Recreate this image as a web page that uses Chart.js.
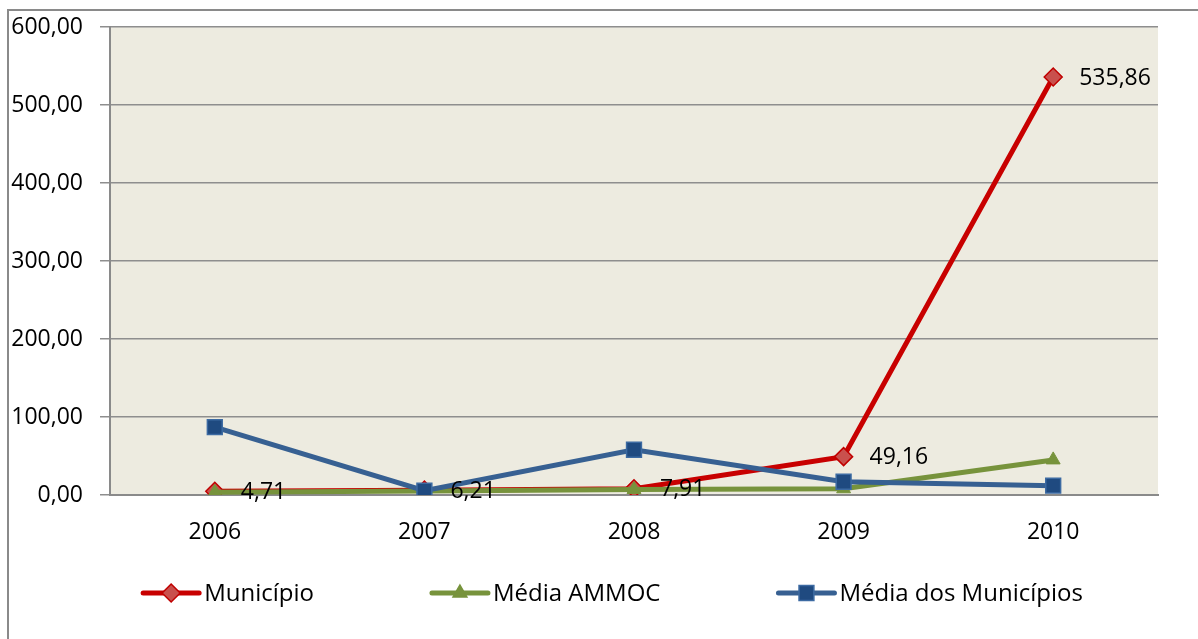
<!DOCTYPE html>
<html>
<head>
<meta charset="utf-8">
<script src="https://cdn.jsdelivr.net/npm/chart.js@4/dist/chart.umd.min.js"></script>
<style>
  html, body { margin: 0; padding: 0; background: #fff; overflow: hidden; }
  #frame { position: absolute; left: 7px; top: 9px; width: 1400px; height: 900px; border: 2px solid #8a8a8a; }
  #graph { position: absolute; left: 0; top: 0; }
</style>
</head>
<body>
<div id="frame"></div>
<canvas id="graph" width="1198" height="639"></canvas>
<script>
var years = ['2006', '2007', '2008', '2009', '2010'];
var municipio = [4.71, 6.21, 7.91, 49.16, 535.86];
var mediaAmmoc = [3.5, 5.2, 7.0, 8.0, 45.0];
var mediaMunicipios = [87.0, 5.5, 58.0, 17.0, 12.0];
var seriesNames = ['Município', 'Média AMMOC', 'Média dos Municípios'];

var FONT = '"Open Sans", "Noto Sans", sans-serif';

function fmt(v) {
  return v.toFixed(2).replace('.', ',');
}

// small marker painter, used by the legend
function drawMarker(ctx, style, x, y, r, fill, stroke) {
  ctx.save();
  ctx.beginPath();
  if (style === 'rectRot') {
    ctx.moveTo(x, y - r); ctx.lineTo(x + r, y); ctx.lineTo(x, y + r); ctx.lineTo(x - r, y);
  } else if (style === 'triangle') {
    ctx.moveTo(x, y - r); ctx.lineTo(x + r * 0.866, y + r * 0.5); ctx.lineTo(x - r * 0.866, y + r * 0.5);
  } else {
    var s = r * Math.SQRT1_2;
    ctx.rect(x - s, y - s, 2 * s, 2 * s);
  }
  ctx.closePath();
  ctx.fillStyle = fill;
  ctx.fill();
  ctx.lineWidth = 1.5;
  ctx.strokeStyle = stroke;
  ctx.stroke();
  ctx.restore();
}

var plotBg = {
  id: 'plotBg',
  beforeDraw: function (chart) {
    var a = chart.chartArea;
    var ctx = chart.ctx;
    ctx.save();
    ctx.fillStyle = '#EDEBE0';
    ctx.fillRect(a.left, a.top, a.right - a.left, a.bottom - a.top);
    ctx.restore();
  }
};

// value labels on the Município series only
var valueLabels = {
  id: 'valueLabels',
  afterDatasetsDraw: function (chart) {
    var ctx = chart.ctx;
    var meta = chart.getDatasetMeta(0);
    ctx.save();
    ctx.font = '23px ' + FONT;
    ctx.fillStyle = '#000';
    ctx.textAlign = 'left';
    ctx.textBaseline = 'middle';
    meta.data.forEach(function (pt, i) {
      ctx.fillText(fmt(municipio[i]), pt.x + 26, pt.y + 1);
    });
    ctx.restore();
  }
};

var bottomLegend = {
  id: 'bottomLegend',
  afterDraw: function (chart) {
    var ctx = chart.ctx;
    var lineLen = 56, textGap = 5, itemGap = 118;
    var y = 593;
    ctx.save();
    ctx.font = '24px ' + FONT;
    var widths = chart.data.datasets.map(function (ds) {
      return lineLen + textGap + ctx.measureText(ds.label).width;
    });
    var total = widths.reduce(function (a, b) { return a + b; }, 0) + itemGap * (widths.length - 1);
    var x = 613 - total / 2;
    chart.data.datasets.forEach(function (ds, i) {
      ctx.beginPath();
      ctx.moveTo(x, y);
      ctx.lineTo(x + lineLen, y);
      ctx.lineWidth = 5;
      ctx.lineCap = 'round';
      ctx.strokeStyle = ds.borderColor;
      ctx.stroke();
      drawMarker(ctx, ds.pointStyle, x + lineLen / 2, y, ds.pointRadius, ds.pointBackgroundColor, ds.pointBorderColor);
      ctx.fillStyle = '#000';
      ctx.textAlign = 'left';
      ctx.textBaseline = 'middle';
      ctx.fillText(ds.label, x + lineLen + textGap, y + 1);
      x += widths[i] + itemGap;
    });
    ctx.restore();
  }
};

var lineChart = new Chart(document.getElementById('graph').getContext('2d'), {
  type: 'line',
  data: {
    labels: years,
    datasets: [
      {
        label: seriesNames[0],
        data: municipio,
        order: 2,
        borderColor: '#C80000',
        borderWidth: 5,
        pointStyle: 'rectRot',
        pointRadius: 9,
        pointBackgroundColor: '#C9504D',
        pointBorderColor: '#C00000',
        pointBorderWidth: 1.5
      },
      {
        label: seriesNames[1],
        data: mediaAmmoc,
        order: 1,
        borderColor: '#77933C',
        borderWidth: 5,
        pointStyle: 'triangle',
        pointRadius: 8,
        pointBackgroundColor: '#77933C',
        pointBorderColor: '#77933C',
        pointBorderWidth: 1
      },
      {
        label: seriesNames[2],
        data: mediaMunicipios,
        order: 0,
        borderColor: '#376092',
        borderWidth: 5,
        pointStyle: 'rect',
        pointRadius: 10.5,
        pointBackgroundColor: '#1F4A80',
        pointBorderColor: '#3C6AA2',
        pointBorderWidth: 1.5
      }
    ]
  },
  options: {
    responsive: false,
    animation: false,
    devicePixelRatio: 1,
    layout: { padding: { top: 27, right: 40, bottom: 84, left: 0 } },
    plugins: {
      legend: { display: false },
      tooltip: { enabled: false }
    },
    elements: { line: { tension: 0 } },
    scales: {
      x: {
        offset: true,
        grid: { display: false, drawTicks: false },
        border: { display: true, color: '#8a8a8a', width: 2 },
        ticks: { color: '#000', font: { family: FONT, size: 23 }, padding: 24 },
        afterFit: function (scale) { scale.height = 60; }
      },
      y: {
        min: 0,
        max: 600,
        grid: { color: '#8e8e8e', lineWidth: 1.5, drawTicks: true, tickLength: 10 },
        border: { display: true, color: '#8a8a8a', width: 2 },
        ticks: {
          stepSize: 100,
          color: '#000',
          padding: 17,
          font: { family: FONT, size: 23 },
          callback: function (v) { return fmt(v); }
        },
        afterFit: function (scale) {
          scale.width = 110;
          scale.paddingTop = 0;
          scale.paddingBottom = 0;
        }
      }
    }
  },
  plugins: [plotBg, valueLabels, bottomLegend]
});
</script>
</body>
</html>
